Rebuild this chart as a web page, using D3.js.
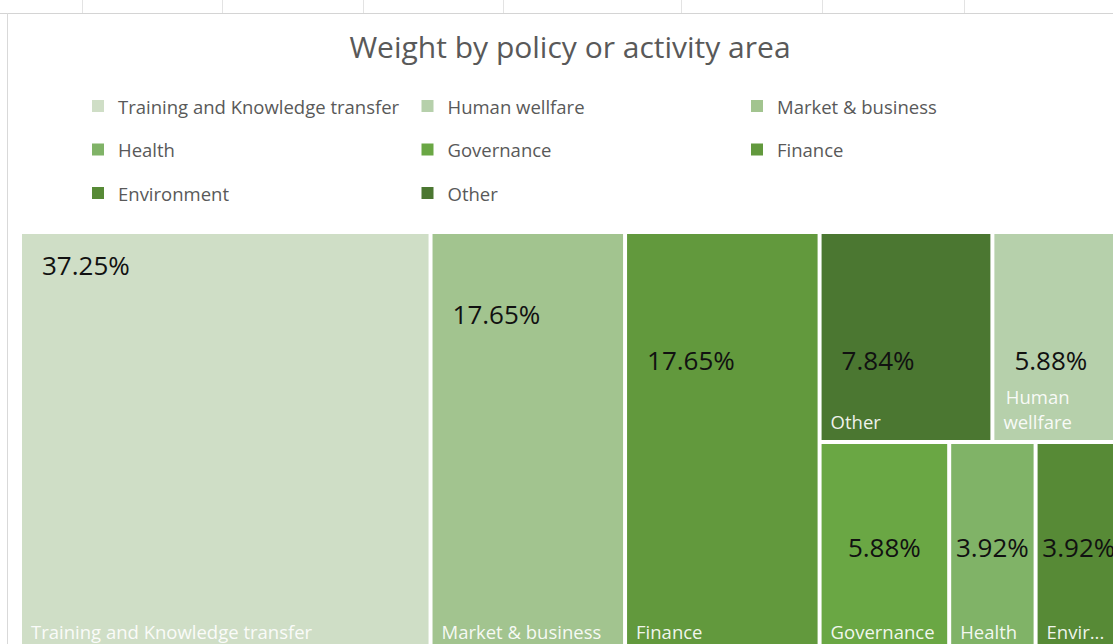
<!DOCTYPE html>
<html>
<head>
<meta charset="utf-8">
<script src="https://cdn.jsdelivr.net/npm/d3@7"></script>
<style>
  body { margin: 0; background: #fff; overflow: hidden; }
  text { font-family: "Open Sans", "Noto Sans", sans-serif; }
</style>
</head>
<body>
<svg id="main-svg"></svg>
<script>
// DATA (legend order)
const categories = ["Training and Knowledge transfer", "Human wellfare", "Market & business", "Health", "Governance", "Finance", "Environment", "Other"];
const shares = [37.25, 5.88, 17.65, 3.92, 5.88, 17.65, 3.92, 7.84];
const colors = ["#cfdec6", "#b6d0ab", "#a2c48f", "#80b367", "#6aa744", "#62993d", "#578a36", "#4b7731"];

// FIXED
const WIDTH = 1113
const HEIGHT = 644
const TREE_X = 22
const TREE_Y = 234
const TREE_W = 1098
const TREE_H = 416
const GAP = 4

// excel-like nesting over the value-sorted tiles: 3 columns, then two rows
const TILE_NESTING = [0, 1, 2, [[3, 4], [5, 6, 7]]];

// value label placement (top offset) for the tall tiles, others centred
const VALUE_DY = { 0: 31, 1: 80, 2: 126, 3: 126, 4: 126 };

const svg = d3.select("#main-svg")
  .attr("width", WIDTH)
  .attr("height", HEIGHT);

svg.append("rect").attr("width", WIDTH).attr("height", HEIGHT).attr("fill", "#fff");

// spreadsheet grid peeking out above the chart
[82, 222, 363, 503, 681, 822, 964].forEach(x => {
  svg.append("line").attr("x1", x + 0.5).attr("x2", x + 0.5).attr("y1", 0).attr("y2", 13)
    .attr("stroke", "#e3e3e3");
});
svg.append("line").attr("x1", 0).attr("x2", WIDTH).attr("y1", 13.5).attr("y2", 13.5).attr("stroke", "#d4d4d4");
svg.append("line").attr("x1", 7.5).attr("x2", 7.5).attr("y1", 13).attr("y2", HEIGHT).attr("stroke", "#d9d9d9");

// title
svg.append("text")
  .attr("x", 570)
  .attr("y", 46)
  .attr("dominant-baseline", "central")
  .attr("text-anchor", "middle")
  .attr("fill", "#595959")
  .attr("font-size", 30)
  .text("Weight by policy or activity area");

// legend
const legendItems = svg.append("g").selectAll("g")
  .data(categories)
  .enter()
  .append("g")
  .attr("transform", (_, i) => `translate(${92 + (i % 3) * 329.5} ${106 + Math.floor(i / 3) * 43.5})`);

legendItems.append("rect")
  .attr("y", -6).attr("width", 12).attr("height", 12)
  .attr("fill", (_, i) => colors[i]);

legendItems.append("text")
  .attr("x", 26)
  .attr("dominant-baseline", "central")
  .attr("fill", "#595959")
  .attr("font-size", 18.5)
  .text(d => d);

// treemap
const items = categories.map((name, i) => ({ name, value: shares[i], color: colors[i], idx: i }));
const sorted = items.slice().sort((a, b) => b.value - a.value);
sorted.forEach((d, r) => d.rank = r);

const build = n => typeof n === "number" ? sorted[n] : { children: n.map(build) };
const root = d3.hierarchy(build(TILE_NESTING))
  .sum(d => d.children ? 0 : d.value);

d3.treemap()
  .tile(d3.treemapSliceDice)
  .size([TREE_W, TREE_H])
  .paddingInner(GAP)
  .round(false)(root);

const leaves = root.leaves();

const treeGroup = svg.append("g")
  .attr("transform", `translate(${TREE_X} ${TREE_Y})`);

const tiles = treeGroup.selectAll("g")
  .data(leaves)
  .enter()
  .append("g");

tiles.append("rect")
  .attr("x", d => d.x0)
  .attr("y", d => d.y0)
  .attr("width", d => d.x1 - d.x0)
  .attr("height", d => d.y1 - d.y0)
  .attr("fill", d => d.data.color);

// value labels
tiles.append("text")
  .attr("x", d => VALUE_DY[d.data.rank] !== undefined ? d.x0 + 20 : (d.x0 + d.x1) / 2)
  .attr("y", d => VALUE_DY[d.data.rank] !== undefined ? d.y0 + VALUE_DY[d.data.rank] : (d.y0 + d.y1) / 2)
  .attr("text-anchor", d => VALUE_DY[d.data.rank] !== undefined ? "start" : "middle")
  .attr("dominant-baseline", "central")
  .attr("font-size", 26)
  .attr("fill", "#111")
  .text(d => d3.format(".2f")(d.data.value) + "%");

// category labels, wrapped or truncated like excel does
tiles.each(function (d) {
  const g = d3.select(this);
  const fitAvail = d.x1 - d.x0 - 12;
  const cutAvail = d.x1 - d.x0 - 24;
  const label = g.append("text")
    .attr("font-size", 18.5)
    .attr("fill", "#fff")
    .attr("fill-opacity", 0.92);
  const measure = s => { label.text(s); return label.node().getComputedTextLength(); };

  let lines = [d.data.name];
  if (measure(d.data.name) > fitAvail) {
    lines = [];
    let cur = "";
    d.data.name.split(" ").forEach(w => {
      const t = cur ? cur + " " + w : w;
      if (cur && measure(t) > fitAvail) { lines.push(cur); cur = w; } else cur = t;
    });
    lines.push(cur);
    lines = lines.map(l => {
      if (measure(l) <= fitAvail) return l;
      let s = l;
      while (s.length > 1 && measure(s + "...") > cutAvail) s = s.slice(0, -1);
      return s + "...";
    });
  }
  const widths = lines.map(measure);
  label.text(null);
  const maxW = d3.max(widths);
  const baseY = d.y1 - 11 - (lines.length - 1) * 25;
  lines.forEach((l, i) => {
    label.append("tspan")
      .attr("x", lines.length > 1 ? d.x0 + 9 + maxW / 2 : d.x0 + 9)
      .attr("y", baseY + i * 25)
      .attr("text-anchor", lines.length > 1 ? "middle" : "start")
      .text(l);
  });
});
</script>
</body>
</html>
